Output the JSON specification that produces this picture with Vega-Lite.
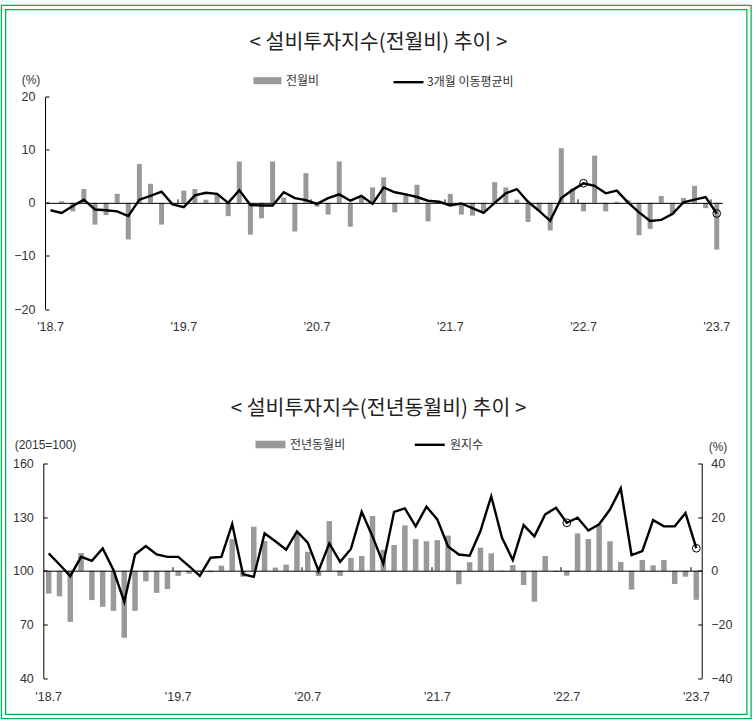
{
  "$schema": "https://vega.github.io/schema/vega-lite/v6.json",
  "width": 745.5,
  "height": 709,
  "autosize": {"type": "none"},
  "padding": {"left": 3.5, "top": 7.5, "right": 6, "bottom": 9.5},
  "background": "white",
  "config": {
    "view": {"stroke": null},
    "axis": {"labelFont": "Liberation Sans", "labelColor": "#333333", "labelFontSize": 12.5, "grid": false, "labelOverlap": false},
    "legend": {"labelFont": "Noto Sans CJK KR", "labelColor": "#333333", "labelFontSize": 12, "padding": 0}
  },
  "data": {
    "values": [
      {"ym": "2018-07", "mom": null, "ma3": -1.4, "yoy": -8.5, "idx": 109.7},
      {"ym": "2018-08", "mom": 0.3, "ma3": -1.9, "yoy": -9.5, "idx": 103.5},
      {"ym": "2018-09", "mom": -1.6, "ma3": -0.6, "yoy": -19.0, "idx": 97.0},
      {"ym": "2018-10", "mom": 2.6, "ma3": 0.6, "yoy": 6.6, "idx": 107.8},
      {"ym": "2018-11", "mom": -4.1, "ma3": -1.25, "yoy": -10.9, "idx": 105.6},
      {"ym": "2018-12", "mom": -2.3, "ma3": -1.4, "yoy": -13.4, "idx": 112.5},
      {"ym": "2019-01", "mom": 1.7, "ma3": -1.6, "yoy": -14.9, "idx": 100.4},
      {"ym": "2019-02", "mom": -6.9, "ma3": -2.5, "yoy": -24.9, "idx": 82.7},
      {"ym": "2019-03", "mom": 7.3, "ma3": 0.6, "yoy": -14.9, "idx": 109.1},
      {"ym": "2019-04", "mom": 3.6, "ma3": 1.3, "yoy": -3.9, "idx": 113.8},
      {"ym": "2019-05", "mom": -4.1, "ma3": 2.1, "yoy": -8.2, "idx": 109.1},
      {"ym": "2019-06", "mom": -0.4, "ma3": -0.3, "yoy": -6.8, "idx": 107.8},
      {"ym": "2019-07", "mom": 2.3, "ma3": -0.8, "yoy": -1.9, "idx": 107.8},
      {"ym": "2019-08", "mom": 2.6, "ma3": 1.4, "yoy": -1.1, "idx": 102.6},
      {"ym": "2019-09", "mom": 0.6, "ma3": 1.9, "yoy": 0.2, "idx": 97.2},
      {"ym": "2019-10", "mom": 1.7, "ma3": 1.7, "yoy": -0.5, "idx": 107.3},
      {"ym": "2019-11", "mom": -2.5, "ma3": 0.0, "yoy": 1.9, "idx": 107.8},
      {"ym": "2019-12", "mom": 7.8, "ma3": 2.4, "yoy": 11.8, "idx": 126.1},
      {"ym": "2020-01", "mom": -6.0, "ma3": -0.4, "yoy": -2.2, "idx": 98.1},
      {"ym": "2020-02", "mom": -2.9, "ma3": -0.5, "yoy": 16.4, "idx": 96.6},
      {"ym": "2020-03", "mom": 7.8, "ma3": -0.5, "yoy": 11.1, "idx": 120.9},
      {"ym": "2020-04", "mom": 1.0, "ma3": 2.0, "yoy": 1.2, "idx": 116.5},
      {"ym": "2020-05", "mom": -5.4, "ma3": 0.9, "yoy": 2.3, "idx": 111.8},
      {"ym": "2020-06", "mom": 5.6, "ma3": 0.5, "yoy": 14.0, "idx": 122.0},
      {"ym": "2020-07", "mom": -0.7, "ma3": -0.2, "yoy": 7.1, "idx": 115.7},
      {"ym": "2020-08", "mom": -2.2, "ma3": 0.9, "yoy": -1.9, "idx": 99.9},
      {"ym": "2020-09", "mom": 7.8, "ma3": 1.6, "yoy": 18.5, "idx": 115.3},
      {"ym": "2020-10", "mom": -4.5, "ma3": 0.4, "yoy": -1.9, "idx": 105.0},
      {"ym": "2020-11", "mom": 1.0, "ma3": 1.3, "yoy": 4.8, "idx": 112.2},
      {"ym": "2020-12", "mom": 2.9, "ma3": -0.2, "yoy": 5.5, "idx": 133.0},
      {"ym": "2021-01", "mom": 4.8, "ma3": 2.9, "yoy": 20.4, "idx": 119.2},
      {"ym": "2021-02", "mom": -1.8, "ma3": 2.0, "yoy": 7.8, "idx": 104.0},
      {"ym": "2021-03", "mom": 1.5, "ma3": 1.6, "yoy": 9.6, "idx": 132.9},
      {"ym": "2021-04", "mom": 3.4, "ma3": 1.1, "yoy": 16.9, "idx": 134.8},
      {"ym": "2021-05", "mom": -3.5, "ma3": 0.4, "yoy": 11.8, "idx": 124.8},
      {"ym": "2021-06", "mom": 0.3, "ma3": 0.2, "yoy": 11.0, "idx": 135.8},
      {"ym": "2021-07", "mom": 1.7, "ma3": -0.5, "yoy": 11.4, "idx": 128.7},
      {"ym": "2021-08", "mom": -2.2, "ma3": -0.1, "yoy": 13.1, "idx": 113.6},
      {"ym": "2021-09", "mom": -2.4, "ma3": -1.0, "yoy": -5.0, "idx": 109.1},
      {"ym": "2021-10", "mom": -1.6, "ma3": -1.9, "yoy": 3.2, "idx": 108.4},
      {"ym": "2021-11", "mom": 3.9, "ma3": 0.0, "yoy": 8.6, "idx": 122.2},
      {"ym": "2021-12", "mom": 2.9, "ma3": 1.8, "yoy": 6.5, "idx": 141.6},
      {"ym": "2022-01", "mom": 0.6, "ma3": 2.6, "yoy": -0.2, "idx": 118.4},
      {"ym": "2022-02", "mom": -3.6, "ma3": 0.2, "yoy": 2.1, "idx": 106.0},
      {"ym": "2022-03", "mom": -1.5, "ma3": -1.5, "yoy": -5.3, "idx": 125.5},
      {"ym": "2022-04", "mom": -5.2, "ma3": -3.4, "yoy": -11.5, "idx": 119.2},
      {"ym": "2022-05", "mom": 10.3, "ma3": 0.9, "yoy": 5.5, "idx": 131.5},
      {"ym": "2022-06", "mom": 2.7, "ma3": 2.4, "yoy": -0.4, "idx": 135.2},
      {"ym": "2022-07", "mom": -1.6, "ma3": 3.7, "yoy": -1.8, "idx": 126.8},
      {"ym": "2022-08", "mom": 8.9, "ma3": 3.2, "yoy": 13.9, "idx": 129.6},
      {"ym": "2022-09", "mom": -1.6, "ma3": 1.8, "yoy": 11.8, "idx": 122.5},
      {"ym": "2022-10", "mom": 0.2, "ma3": 2.3, "yoy": 17.1, "idx": 126.0},
      {"ym": "2022-11", "mom": 0.5, "ma3": 0.1, "yoy": 11.0, "idx": 134.2},
      {"ym": "2022-12", "mom": -6.1, "ma3": -1.8, "yoy": 3.3, "idx": 146.0},
      {"ym": "2023-01", "mom": -4.9, "ma3": -3.4, "yoy": -7.0, "idx": 108.8},
      {"ym": "2023-02", "mom": 1.3, "ma3": -3.2, "yoy": 4.0, "idx": 111.0},
      {"ym": "2023-03", "mom": -2.2, "ma3": -2.1, "yoy": 2.0, "idx": 128.3},
      {"ym": "2023-04", "mom": 0.9, "ma3": 0.1, "yoy": 4.0, "idx": 124.8},
      {"ym": "2023-05", "mom": 3.2, "ma3": 0.6, "yoy": -4.9, "idx": 124.8},
      {"ym": "2023-06", "mom": -1.0, "ma3": 1.1, "yoy": -2.2, "idx": 132.2},
      {"ym": "2023-07", "mom": -8.8, "ma3": -2.0, "yoy": -10.8, "idx": 112.6}
    ]
  },
  "resolve": {"scale": {"x": "independent", "y": "independent", "fill": "independent", "stroke": "independent"}},
  "layer": [
    {
      "data": {"values": [{"frame": "outer"}]},
      "mark": {"type": "rect", "fill": "transparent", "stroke": "#00B050", "strokeWidth": 5.5},
      "encoding": {}
    },
    {
      "data": {"values": [{"frame": "gap"}]},
      "mark": {"type": "rect", "fill": "transparent", "stroke": "white", "strokeWidth": 3},
      "encoding": {}
    },
    {
      "resolve": {"axis": {"x": "independent", "y": "independent"}},
      "layer": [
        {
          "mark": {"type": "bar", "width": 5},
          "encoding": {
            "x": {
              "field": "ym", "type": "ordinal",
              "scale": {"type": "band", "range": [41.5, 718.8], "paddingInner": 0, "paddingOuter": 0},
              "axis": {
                "orient": "bottom", "offset": -407.5, "domain": false, "ticks": false, "tickSize": 0,
                "bandPosition": 0.5,
                "values": ["2018-07", "2019-07", "2020-07", "2021-07", "2022-07", "2023-07"],
                "labelExpr": "\"'\" + substring(datum.value, 2, 4) + '.7'",
                "labelAngle": 0, "labelPadding": 11.5,
                "title": "< 설비투자지수(전월비) 추이 >", "titleX": 374.5, "titleY": -267,
                "titleAlign": "center", "titleBaseline": "middle", "titleAngle": 0,
                "titleFont": "Noto Sans CJK KR", "titleFontSize": 20.5, "titleFontWeight": "normal", "titleColor": "#222222"
              }
            },
            "y": {
              "field": "mom", "type": "quantitative",
              "scale": {"domain": [-20, 20], "range": [301.5, 89.2], "nice": false, "zero": false},
              "axis": {
                "orient": "left", "offset": -41.5, "values": [-20, -10, 0, 10, 20],
                "domain": true, "domainColor": "#000000", "ticks": true, "tickSize": -4, "tickColor": "#000000",
                "labelPadding": 14,
                "title": "(%)", "titleX": -14.5, "titleY": 71.5, "titleAngle": 0, "titleAlign": "center", "titleBaseline": "middle",
                "titleFont": "Liberation Sans", "titleFontSize": 12, "titleFontWeight": "normal", "titleColor": "#333333"
              }
            },
            "fill": {
              "datum": "전월비",
              "scale": {"range": ["#999999"]},
              "legend": {
                "orient": "none", "legendX": 254, "legendY": 63.2, "title": null,
                "symbolType": "M-1.4,-0.35H1.4V0.35H-1.4Z", "symbolSize": 400, "symbolStrokeWidth": 0,
                "labelOffset": 8.5
              }
            }
          }
        },
        {
          "mark": {"type": "line", "strokeWidth": 2.4},
          "encoding": {
            "x": {
              "field": "ym", "type": "ordinal",
              "axis": {
                "orient": "bottom", "offset": -513.65, "domain": true, "domainColor": "#000000", "domainWidth": 1,
                "ticks": true, "tickSize": -4, "tickColor": "#000000", "bandPosition": 0,
                "values": ["2019-07", "2020-07", "2021-07", "2022-07", "2023-07"],
                "labels": false, "title": null, "zindex": 1
              }
            },
            "y": {"field": "ma3", "type": "quantitative", "axis": null},
            "stroke": {
              "datum": "3개월 이동평균비",
              "scale": {"range": ["#000000"]},
              "legend": {
                "orient": "none", "legendX": 388.5, "legendY": 58.2, "title": null,
                "symbolType": "stroke", "symbolSize": 900, "symbolStrokeWidth": 2.4,
                "labelOffset": 2
              }
            }
          }
        },
        {
          "transform": [{"filter": "datum.ym == '2022-07' || datum.ym == '2023-07'"}],
          "mark": {"type": "point", "shape": "circle", "filled": false, "color": "#000000", "strokeWidth": 1, "size": 60, "opacity": 1},
          "encoding": {
            "x": {"field": "ym", "type": "ordinal", "axis": null},
            "y": {"field": "ma3", "type": "quantitative", "axis": null}
          }
        }
      ]
    },
    {
      "resolve": {"scale": {"y": "independent"}, "axis": {"x": "independent"}},
      "layer": [
        {
          "mark": {"type": "bar", "width": 5.5},
          "encoding": {
            "x": {
              "field": "ym", "type": "ordinal",
              "scale": {"type": "band", "range": [39.8, 698.2], "paddingInner": 0, "paddingOuter": 0},
              "axis": {
                "orient": "bottom", "offset": -38.2, "domain": false, "ticks": false, "tickSize": 0,
                "bandPosition": 0.5,
                "values": ["2018-07", "2019-07", "2020-07", "2021-07", "2022-07", "2023-07"],
                "labelExpr": "\"'\" + substring(datum.value, 2, 4) + '.7'",
                "labelAngle": 0, "labelPadding": 12,
                "title": "< 설비투자지수(전년동월비) 추이 >", "titleX": 374.5, "titleY": -270.3,
                "titleAlign": "center", "titleBaseline": "middle", "titleAngle": 0,
                "titleFont": "Noto Sans CJK KR", "titleFontSize": 20.5, "titleFontWeight": "normal", "titleColor": "#222222"
              }
            },
            "y": {
              "field": "yoy", "type": "quantitative",
              "scale": {"domain": [-40, 40], "range": [670.8, 455.8], "nice": false, "zero": false},
              "axis": {
                "orient": "right", "offset": -47.3, "values": [-40, -20, 0, 20, 40],
                "domain": true, "domainColor": "#000000", "ticks": true, "tickSize": -4, "tickColor": "#000000",
                "labelPadding": 13,
                "title": "(%)", "titleX": 15.8, "titleY": 439.2, "titleAngle": 0, "titleAlign": "center", "titleBaseline": "middle",
                "titleFont": "Liberation Sans", "titleFontSize": 12, "titleFontWeight": "normal", "titleColor": "#333333"
              }
            },
            "fill": {
              "datum": "전년동월비",
              "scale": {"range": ["#999999"]},
              "legend": {
                "orient": "none", "legendX": 257, "legendY": 427, "title": null,
                "symbolType": "M-1.5,-0.38H1.5V0.38H-1.5Z", "symbolSize": 400, "symbolStrokeWidth": 0,
                "labelOffset": 9.5
              }
            }
          }
        },
        {
          "mark": {"type": "line", "strokeWidth": 2.4},
          "encoding": {
            "x": {
              "field": "ym", "type": "ordinal",
              "axis": {
                "orient": "bottom", "offset": -145.8, "domain": true, "domainColor": "#000000", "domainWidth": 1,
                "ticks": true, "tickSize": -4, "tickColor": "#000000", "bandPosition": 0,
                "values": ["2019-07", "2020-07", "2021-07", "2022-07", "2023-07"],
                "labels": false, "title": null, "zindex": 1
              }
            },
            "y": {
              "field": "idx", "type": "quantitative",
              "scale": {"domain": [40, 160], "range": [670.8, 455.8], "nice": false, "zero": false},
              "axis": {
                "orient": "left", "offset": -39.8, "values": [40, 70, 100, 130, 160],
                "domain": true, "domainColor": "#000000", "ticks": true, "tickSize": -4, "tickColor": "#000000",
                "labelPadding": 14,
                "title": "(2015=100)", "titleX": 1.7, "titleY": 436.5, "titleAngle": 0, "titleAlign": "center", "titleBaseline": "middle",
                "titleFont": "Liberation Sans", "titleFontSize": 12, "titleFontWeight": "normal", "titleColor": "#333333"
              }
            },
            "stroke": {
              "datum": "원지수",
              "scale": {"range": ["#000000"]},
              "legend": {
                "orient": "none", "legendX": 409.8, "legendY": 420.8, "title": null,
                "symbolType": "stroke", "symbolSize": 900, "symbolStrokeWidth": 2.4,
                "labelOffset": 3.7
              }
            }
          }
        },
        {
          "transform": [{"filter": "datum.ym == '2022-07' || datum.ym == '2023-07'"}],
          "mark": {"type": "point", "shape": "circle", "filled": false, "color": "#000000", "strokeWidth": 1, "size": 60, "opacity": 1},
          "encoding": {
            "x": {"field": "ym", "type": "ordinal", "axis": null},
            "y": {
              "field": "idx", "type": "quantitative",
              "scale": {"domain": [40, 160], "range": [670.8, 455.8], "nice": false, "zero": false},
              "axis": null
            }
          }
        }
      ]
    }
  ]
}
